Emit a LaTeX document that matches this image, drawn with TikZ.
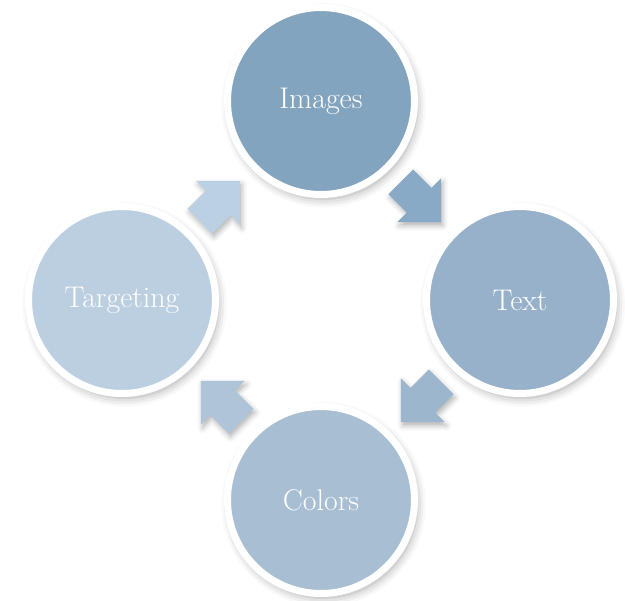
\documentclass[tikz,border=0pt]{standalone}
\usetikzlibrary{shadows.blur}

\definecolor{imagesfill}{HTML}{83A4BF}
\definecolor{textfill}{HTML}{96B1C9}
\definecolor{colorsfill}{HTML}{A8BED3}
\definecolor{targetfill}{HTML}{BCCFE1}
\definecolor{arrowone}{HTML}{89AAC6}
\definecolor{arrowtwo}{HTML}{9CB6CE}
\definecolor{arrowthree}{HTML}{AFC4D9}
\definecolor{arrowfour}{HTML}{BBD0E3}

\tikzset{
  x=0.02cm, y=-0.02cm,
  stage/.style={circle, minimum size=3.74cm, inner sep=0pt, draw=white,
    line width=0.14cm, text=white, font=\fontsize{17}{20}\selectfont,
    blur shadow={shadow xshift=1.5pt, shadow yshift=-2.5pt, shadow blur radius=5pt, shadow opacity=35}},
  cyclearrow/.pic={
    \fill[pic actions, blur shadow={shadow xshift=1pt, shadow yshift=-2pt, shadow blur radius=3pt, shadow opacity=30}]
      (-28.5,-17.5) -- (-2.5,-17.5) -- (-2.5,-31) -- (28.5,0)
      -- (-2.5,31) -- (-2.5,17.5) -- (-28.5,17.5) -- cycle;
  }
}

\begin{document}
\begin{tikzpicture}
  \useasboundingbox (0,0) rectangle (625,600);

  \node (images) [stage, fill=imagesfill] at (321,101) {Images};
  \node (text)   [stage, fill=textfill]   at (520,300) {Text};
  \node (colors) [stage, fill=colorsfill] at (321,500) {Colors};
  \node (target) [stage, fill=targetfill] at (122,300) {Targeting};

  \pic (a1) [rotate=-45,  fill=arrowone]   at (421,202) {cyclearrow};
  \pic (a2) [rotate=-135, fill=arrowtwo]   at (421,402) {cyclearrow};
  \pic (a3) [rotate=135,  fill=arrowthree] at (221,401) {cyclearrow};
  \pic (a4) [rotate=45,   fill=arrowfour]  at (220,201) {cyclearrow};
\end{tikzpicture}
\end{document}
